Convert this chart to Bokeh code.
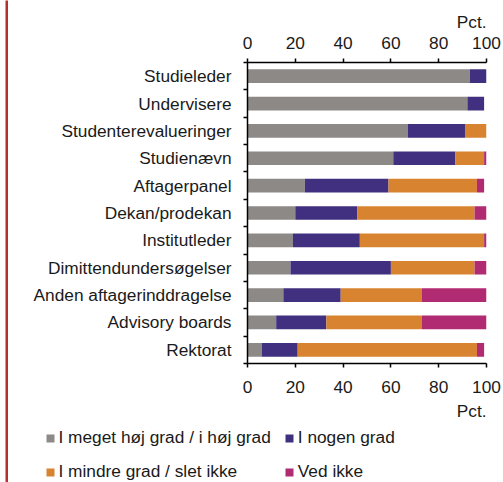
from bokeh.plotting import figure
from bokeh.models import (ColumnDataSource, Range1d, FixedTicker, LinearAxis, Legend,
                          LegendItem, Title, Spacer)
from bokeh.layouts import row, column
from bokeh.embed import file_html
from bokeh.resources import INLINE

categories = ["Studieleder", "Undervisere", "Studenterevalueringer", "Studienævn",
              "Aftagerpanel", "Dekan/prodekan", "Institutleder", "Dimittendundersøgelser",
              "Anden aftagerinddragelse", "Advisory boards", "Rektorat"]
hoej = [93, 92, 67, 61, 24, 20, 19, 18, 15, 12, 6]
nogen = [7, 7, 24, 26, 35, 26, 28, 42, 24, 21, 15]
mindre = [0, 0, 9, 12, 37, 49, 52, 35, 34, 40, 75]
vedikke = [0, 0, 0, 1, 3, 5, 1, 5, 28, 27, 3]
series_names = ["I meget høj grad / i høj grad", "I nogen grad",
                "I mindre grad / slet ikke", "Ved ikke"]
x_ticks = [0, 20, 40, 60, 80, 100]
unit_label = "Pct."

colors = ["#8C8986", "#41307F", "#D8832F", "#B02B72"]
RED = "#B5302A"
FONT = "Liberation Sans"
FS = "17.3px"
TXT = "#1a1a1a"

n = len(categories)
ys = [i + 0.5 for i in range(n)]
source = ColumnDataSource(dict(y=ys, s0=hoej, s1=nogen, s2=mindre, s3=vedikke))

def no_align(fig):
    if "frame_align" in fig.properties():
        fig.frame_align = False

# ---------------- main chart ----------------
p = figure(width=495, height=428, output_backend="svg", toolbar_location=None,
           x_range=Range1d(0, 100), y_range=Range1d(n, 0),
           min_border_left=239, min_border_right=17, min_border_top=62,
           min_border_bottom=65, x_axis_location="below")
no_align(p)
p.outline_line_color = None
p.grid.visible = False
p.background_fill_color = "white"
p.border_fill_color = "white"

p.hbar_stack(["s0", "s1", "s2", "s3"], y="y", height=0.5, color=colors,
             line_color=None, source=source)

def style_x(ax, standoff):
    ax.ticker = FixedTicker(ticks=x_ticks)
    ax.axis_line_color = "black"
    ax.axis_line_width = 1.5
    ax.major_tick_line_color = "black"
    ax.major_tick_line_width = 1.5
    ax.major_tick_out = 4
    ax.major_tick_in = 0
    ax.minor_tick_line_color = None
    ax.major_label_text_font = FONT
    ax.major_label_text_font_size = FS
    ax.major_label_text_color = TXT
    ax.major_label_standoff = standoff

style_x(p.xaxis[0], 13)
top_ax = LinearAxis()
style_x(top_ax, 10)
p.add_layout(top_ax, "above")

yax = p.yaxis[0]
yax.ticker = FixedTicker(ticks=ys, minor_ticks=list(range(n + 1)))
yax.major_label_overrides = {y: c for y, c in zip(ys, categories)}
yax.axis_line_color = "black"
yax.axis_line_width = 1.5
yax.major_tick_out = 0
yax.major_tick_in = 0
yax.major_tick_line_color = None
yax.minor_tick_line_color = "black"
yax.minor_tick_line_width = 1.5
yax.minor_tick_out = 4
yax.minor_tick_in = 0
yax.major_label_text_font = FONT
yax.major_label_text_font_size = FS
yax.major_label_text_color = TXT
yax.major_label_standoff = 12

def style_title(t, standoff):
    t.text = unit_label
    t.align = "right"
    t.text_font = FONT
    t.text_font_size = FS
    t.text_font_style = "normal"
    t.text_color = TXT
    t.standoff = standoff
    t.offset = 0

style_title(p.title, 4)
p.title_location = "above"
bottom_title = Title()
style_title(bottom_title, 6)
p.add_layout(bottom_title, "below")

# ---------------- legend strip ----------------
lg = figure(width=495, height=54, output_backend="svg", toolbar_location=None,
            x_range=Range1d(0, 1), y_range=Range1d(0, 1), min_border=0)
no_align(lg)
lg.axis.visible = False
lg.grid.visible = False
lg.outline_line_color = None
lg.background_fill_color = "white"
lg.border_fill_color = "white"
# legend-only renderers, placed outside the visible range of this strip
dummies = [lg.hbar(y=[-10], right=[1], height=0.5, color=c, line_color=None)
           for c in colors]
items = [LegendItem(label=name, renderers=[r]) for name, r in zip(series_names, dummies)]
legend = Legend(items=items, ncols=2, location=(36.5, 0), orientation="horizontal",
                glyph_width=10, glyph_height=10, label_standoff=4, spacing=13,
                label_height=20, padding=0, margin=0, border_line_color=None,
                background_fill_alpha=0, label_text_font=FONT,
                label_text_font_size=FS, label_text_color=TXT)
lg.add_layout(legend, "center")

# ---------------- red rule on the left ----------------
red = figure(width=3, height=482, output_backend="svg", toolbar_location=None,
             min_border=0, x_range=Range1d(0, 1), y_range=Range1d(0, 1))
red.axis.visible = False
red.grid.visible = False
red.outline_line_color = None
red.background_fill_color = RED
red.border_fill_color = RED

layout = row(Spacer(width=5, height=482), red, column(p, lg))

open("out.html", "w").write(file_html(layout, INLINE))
